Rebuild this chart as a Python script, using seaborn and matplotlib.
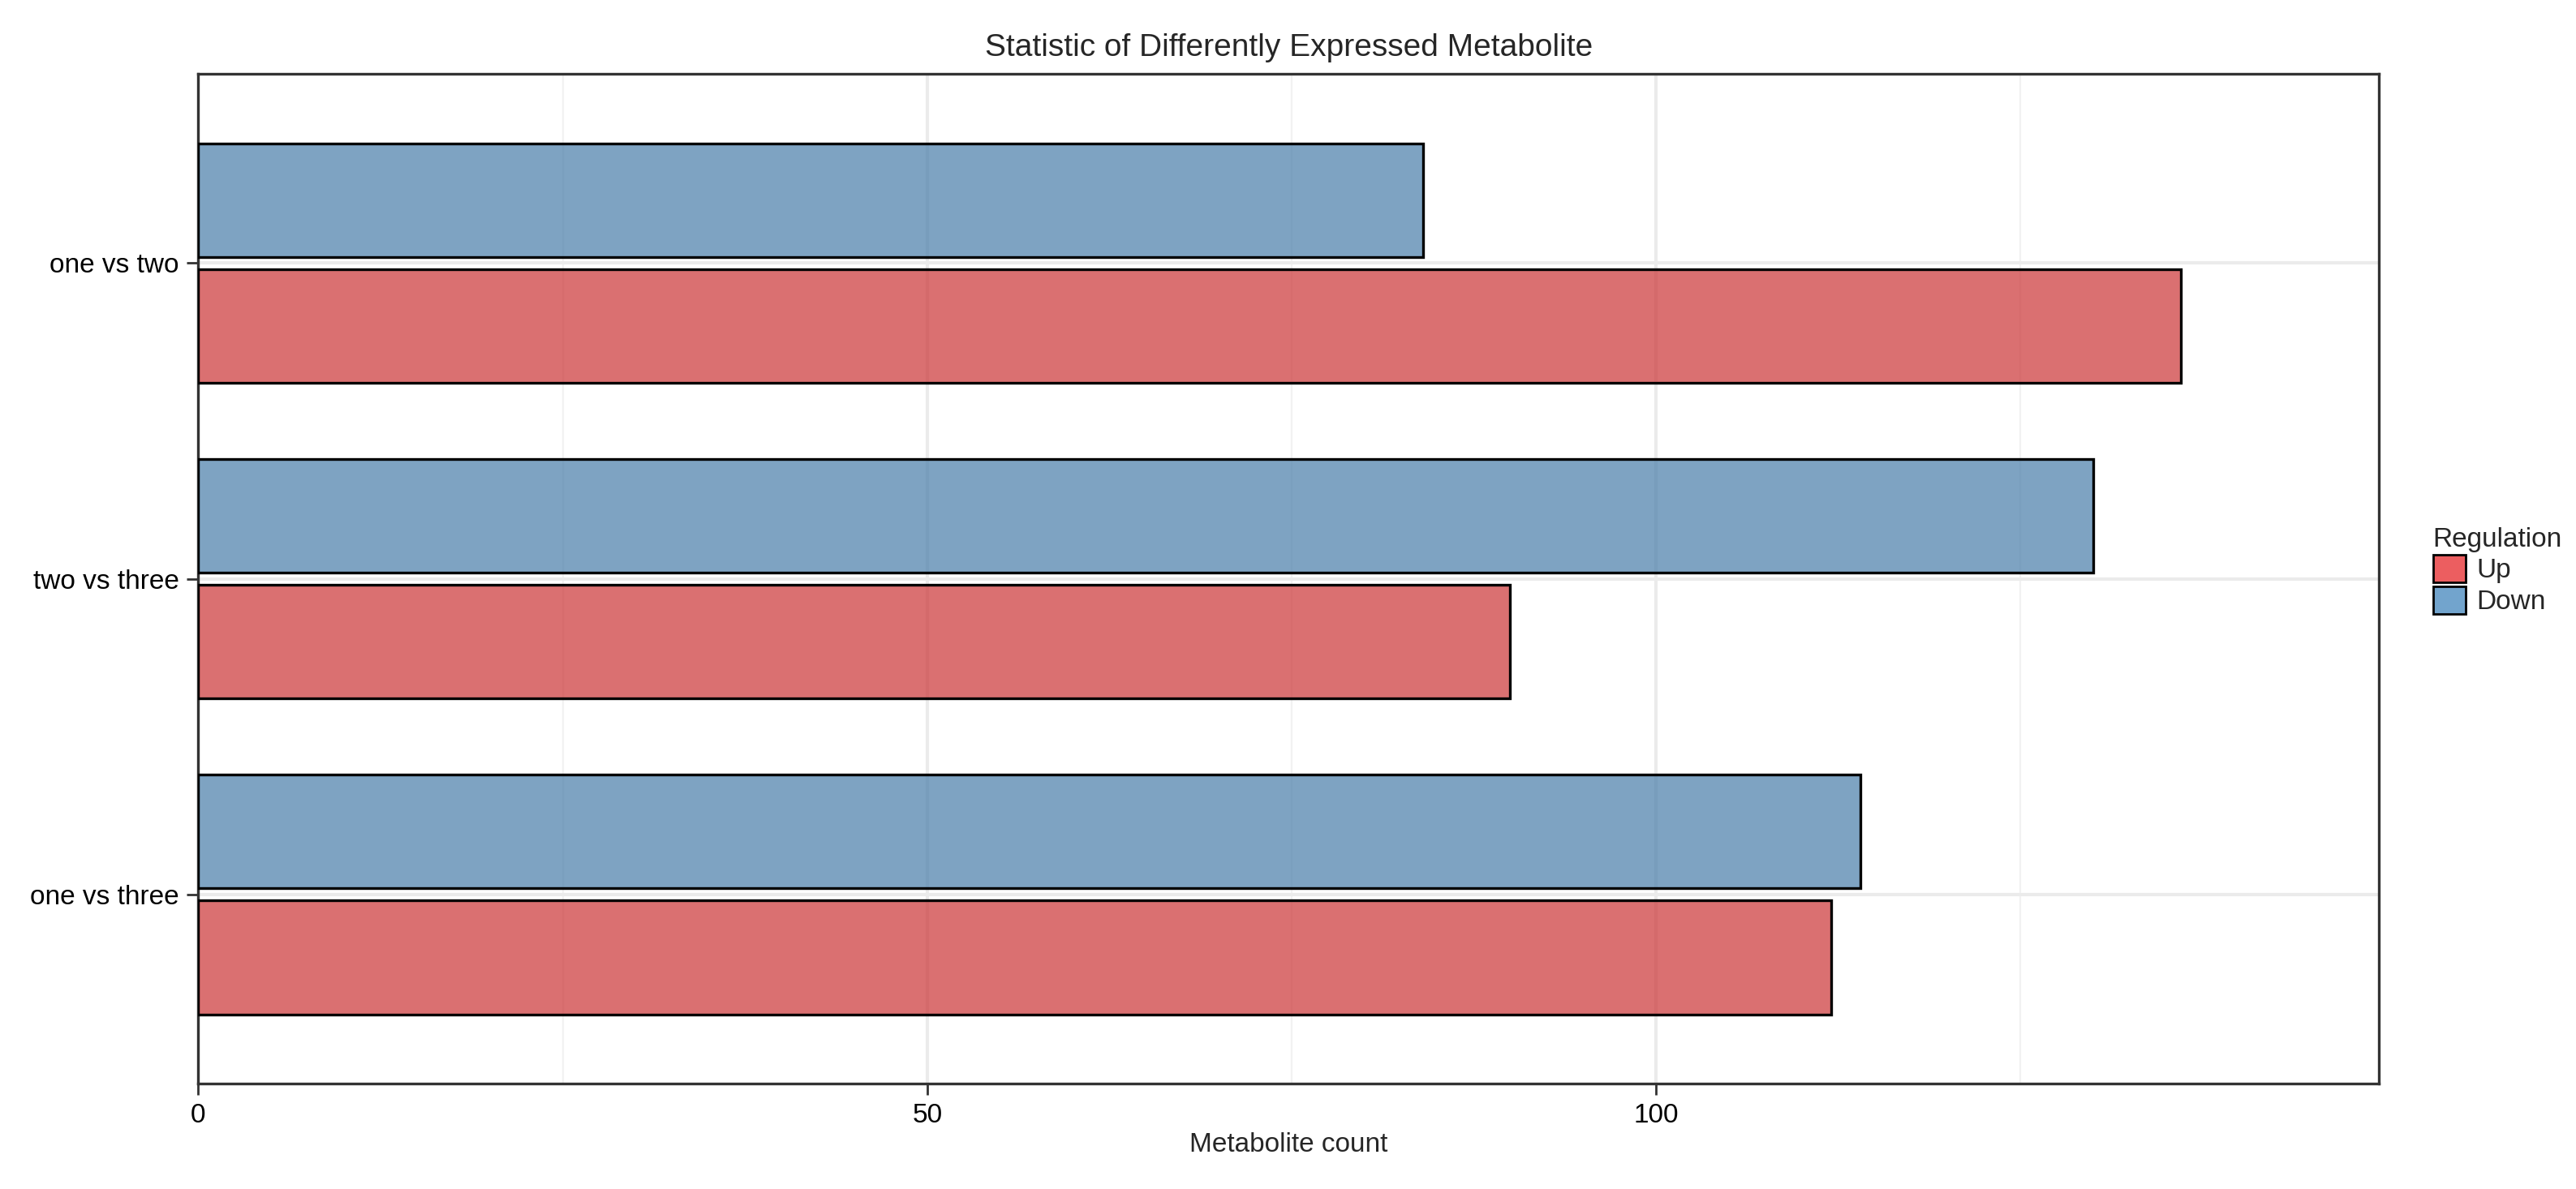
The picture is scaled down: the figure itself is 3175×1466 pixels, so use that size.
import matplotlib
matplotlib.use("Agg")
import matplotlib.pyplot as plt
import seaborn as sns
import pandas as pd
from matplotlib.patches import Patch

categories = ["one vs two", "two vs three", "one vs three"]
up_counts = [136, 90, 112]
down_counts = [84, 130, 114]

df = pd.DataFrame({
    "Comparison": categories * 2,
    "Regulation": ["Down"] * 3 + ["Up"] * 3,
    "Count": down_counts + up_counts,
})

sns.set_theme(style="white")
plt.rcParams["font.family"] = ["Liberation Sans", "DejaVu Sans"]

fig = plt.figure(figsize=(15.875, 7.33), dpi=200)
ax = fig.add_axes([0.077, 0.0886, 0.8465, 0.8494])
pal = {"Up": "#E41A1C", "Down": "#377EB8"}
sns.barplot(data=df, y="Comparison", x="Count", hue="Regulation", order=categories,
            hue_order=["Down", "Up"], palette=pal, orient="h", width=0.8, gap=0.1,
            edgecolor="black", linewidth=1.2, alpha=0.7, legend=False, ax=ax, zorder=3)
for p in ax.patches:
    p.set_edgecolor("black"); p.set_alpha(None)
    fc = p.get_facecolor(); p.set_facecolor((fc[0], fc[1], fc[2], 0.7))

ax.set_xlim(0, 149.6)
ax.set_ylim(2.6, -0.6)
ax.set_xticks([0, 50, 100])
ax.set_xticks([25, 75, 125], minor=True)
ax.grid(True, which="major", color="#EBEBEB", linewidth=1.5, zorder=0)
ax.grid(True, which="minor", axis="x", color="#F2F2F2", linewidth=0.8, zorder=0)
ax.set_axisbelow(True)
for s in ax.spines.values():
    s.set_color("#333333"); s.set_linewidth(1.2)
ax.tick_params(axis="both", which="major", length=5, width=1, color="#333333",
               labelsize=12, labelcolor="black", bottom=True, left=True)
ax.tick_params(which="minor", length=0)
ax.set_xlabel("Metabolite count", fontsize=12, labelpad=2)
ax.set_ylabel("")
ax.set_title("Statistic of Differently Expressed Metabolite", fontsize=14, pad=8)

handles = [Patch(facecolor=(0.894, 0.102, 0.110, 0.7), edgecolor="black", label="Up"),
           Patch(facecolor=(0.216, 0.494, 0.722, 0.7), edgecolor="black", label="Down")]
fig.legend(handles=handles, title="Regulation", loc="center left", bbox_to_anchor=(0.935, 0.52),
           frameon=False, fontsize=12, title_fontsize=12, handlelength=1.2, handleheight=1.2,
           handletextpad=0.4, labelspacing=0.1, alignment="left")
fig.savefig("out.png", dpi=200)
